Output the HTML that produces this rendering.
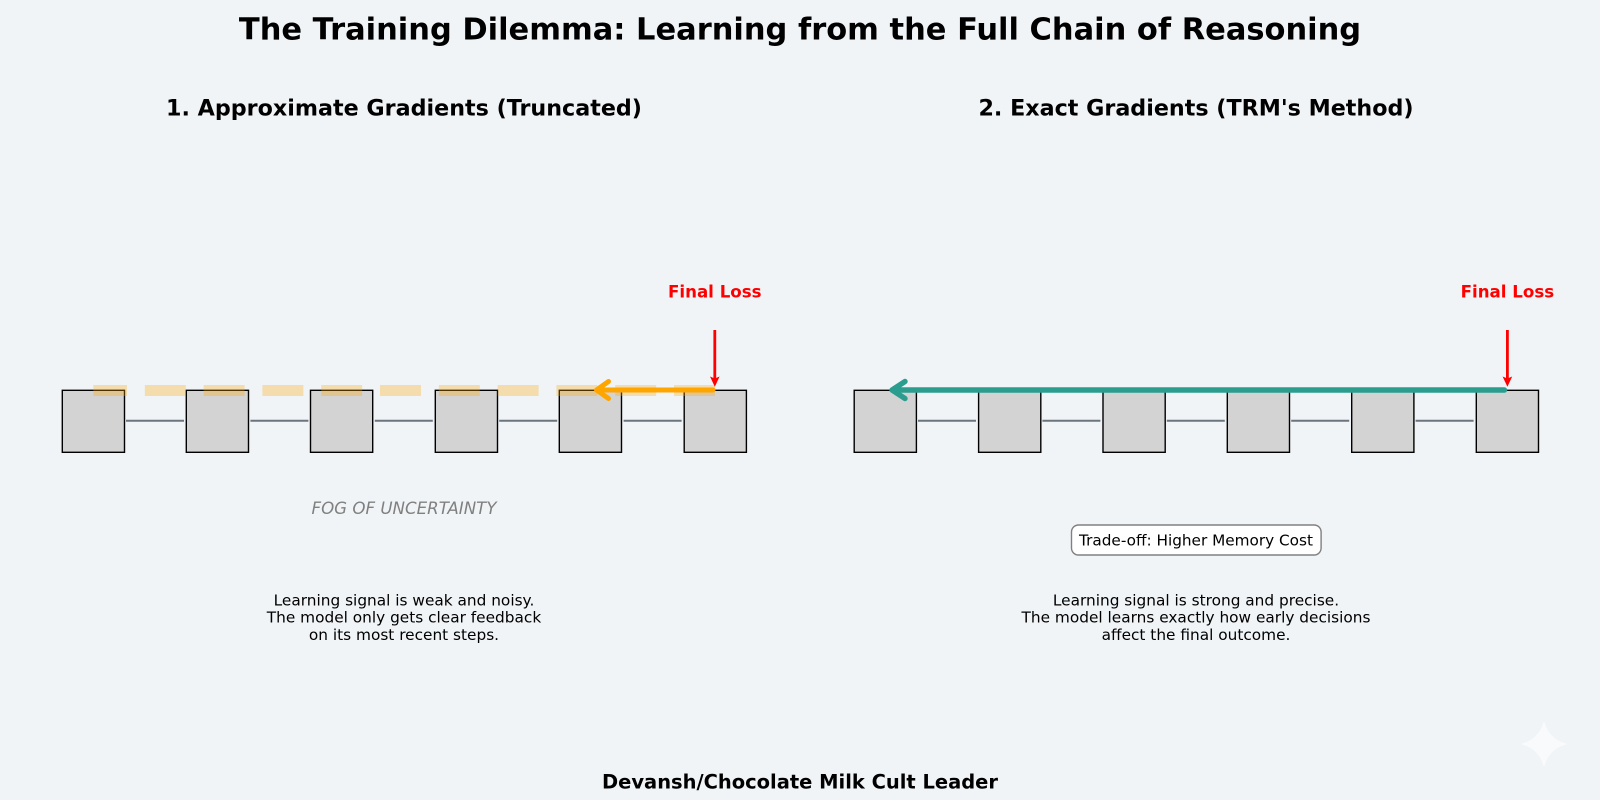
<!DOCTYPE html>
<html><head><meta charset="utf-8"><style>
html,body{margin:0;padding:0;background:#f0f4f7}
svg{display:block}
text{font-family:"DejaVu Sans","Liberation Sans",sans-serif;text-anchor:middle;dominant-baseline:auto}
</style></head><body>
<svg width="1600" height="800" viewBox="0 0 1600 800" xmlns="http://www.w3.org/2000/svg">
<rect width="1600" height="800" fill="#f0f4f7"/>
<text x="800" y="39.5" font-size="30.48" font-weight="700">The Training Dilemma: Learning from the Full Chain of Reasoning</text>
<text x="404" y="115.7" font-size="22.22" font-weight="700">1. Approximate Gradients (Truncated)</text>
<text x="1196" y="115.7" font-size="22.22" font-weight="700">2. Exact Gradients (TRM's Method)</text>
<g stroke="#6c757d" stroke-width="2">
<path d="M126 420.7H184M250.4 420.7H308.4M374.8 420.7H432.8M499.2 420.7H557.2M623.6 420.7H681.6"/>
<path d="M918 420.7H976M1042.4 420.7H1100.4M1166.8 420.7H1224.8M1291.2 420.7H1349.2M1415.6 420.7H1473.6"/>
</g>
<g fill="#d3d3d3" stroke="#000" stroke-width="1.4">
<rect x="62.3" y="390.3" width="62.2" height="62"/>
<rect x="186.3" y="390.3" width="62.2" height="62"/>
<rect x="310.5" y="390.3" width="62.2" height="62"/>
<rect x="435.3" y="390.3" width="62.2" height="62"/>
<rect x="559.3" y="390.3" width="62.2" height="62"/>
<rect x="684.2" y="390.3" width="62.2" height="62"/>
<rect x="854.2" y="390.3" width="62.2" height="62"/>
<rect x="978.6" y="390.3" width="62.2" height="62"/>
<rect x="1103" y="390.3" width="62.2" height="62"/>
<rect x="1227.3" y="390.3" width="62.2" height="62"/>
<rect x="1351.7" y="390.3" width="62.2" height="62"/>
<rect x="1476.3" y="390.3" width="62.2" height="62"/>
</g>
<line x1="715" y1="390.5" x2="93.3" y2="390.5" stroke="#ffa500" stroke-opacity=".3" stroke-width="11" stroke-dasharray="41 17.8"/>
<path d="M713 390H596.5M608.5 381.5L596.5 390L608.5 398.5" fill="none" stroke="#ffa500" stroke-width="5" stroke-linecap="round" stroke-linejoin="round"/>
<path d="M1504.5 390H892M905 381.5L892 390L905 398.5" fill="none" stroke="#2a9d8f" stroke-width="5.4" stroke-linecap="round" stroke-linejoin="round"/>
<g stroke="#f00" stroke-width="2.8" fill="#f00">
<line x1="714.8" y1="330" x2="714.8" y2="380"/>
<line x1="1507.4" y1="330" x2="1507.4" y2="380"/>
</g>
<path d="M714.8 386.8L710 376.5L714.8 378.5L719.6 376.5Z" fill="#f00"/>
<path d="M1507.4 386.8L1502.6 376.5L1507.4 378.5L1512.2 376.5Z" fill="#f00"/>
<text x="714.8" y="297.5" font-size="16.67" font-weight="700" fill="#f00">Final Loss</text>
<text x="1507.4" y="297.5" font-size="16.67" font-weight="700" fill="#f00">Final Loss</text>
<text x="404" y="514" font-size="16.67" font-style="italic" fill="#808080">FOG OF UNCERTAINTY</text>
<rect x="1071.5" y="525" width="249.6" height="30" rx="7" ry="7" fill="#fff" stroke="#808080" stroke-width="1.4"/>
<text x="1196" y="545.5" font-size="15.28">Trade-off: Higher Memory Cost</text>
<g font-size="15.33">
<text x="404" y="605.5">Learning signal is weak and noisy.</text>
<text x="404" y="622.7">The model only gets clear feedback</text>
<text x="404" y="640">on its most recent steps.</text>
<text x="1196" y="605.5">Learning signal is strong and precise.</text>
<text x="1196" y="622.7">The model learns exactly how early decisions</text>
<text x="1196" y="640">affect the final outcome.</text>
</g>
<text x="800" y="788.6" font-size="19.48" font-weight="700">Devansh/Chocolate Milk Cult Leader</text>
<path d="M1544 720C1547 733 1555 741 1568 744C1555 747 1547 755 1544 768C1541 755 1533 747 1520 744C1533 741 1541 733 1544 720Z" fill="#fff" fill-opacity=".5"/>
</svg>
</body></html>
